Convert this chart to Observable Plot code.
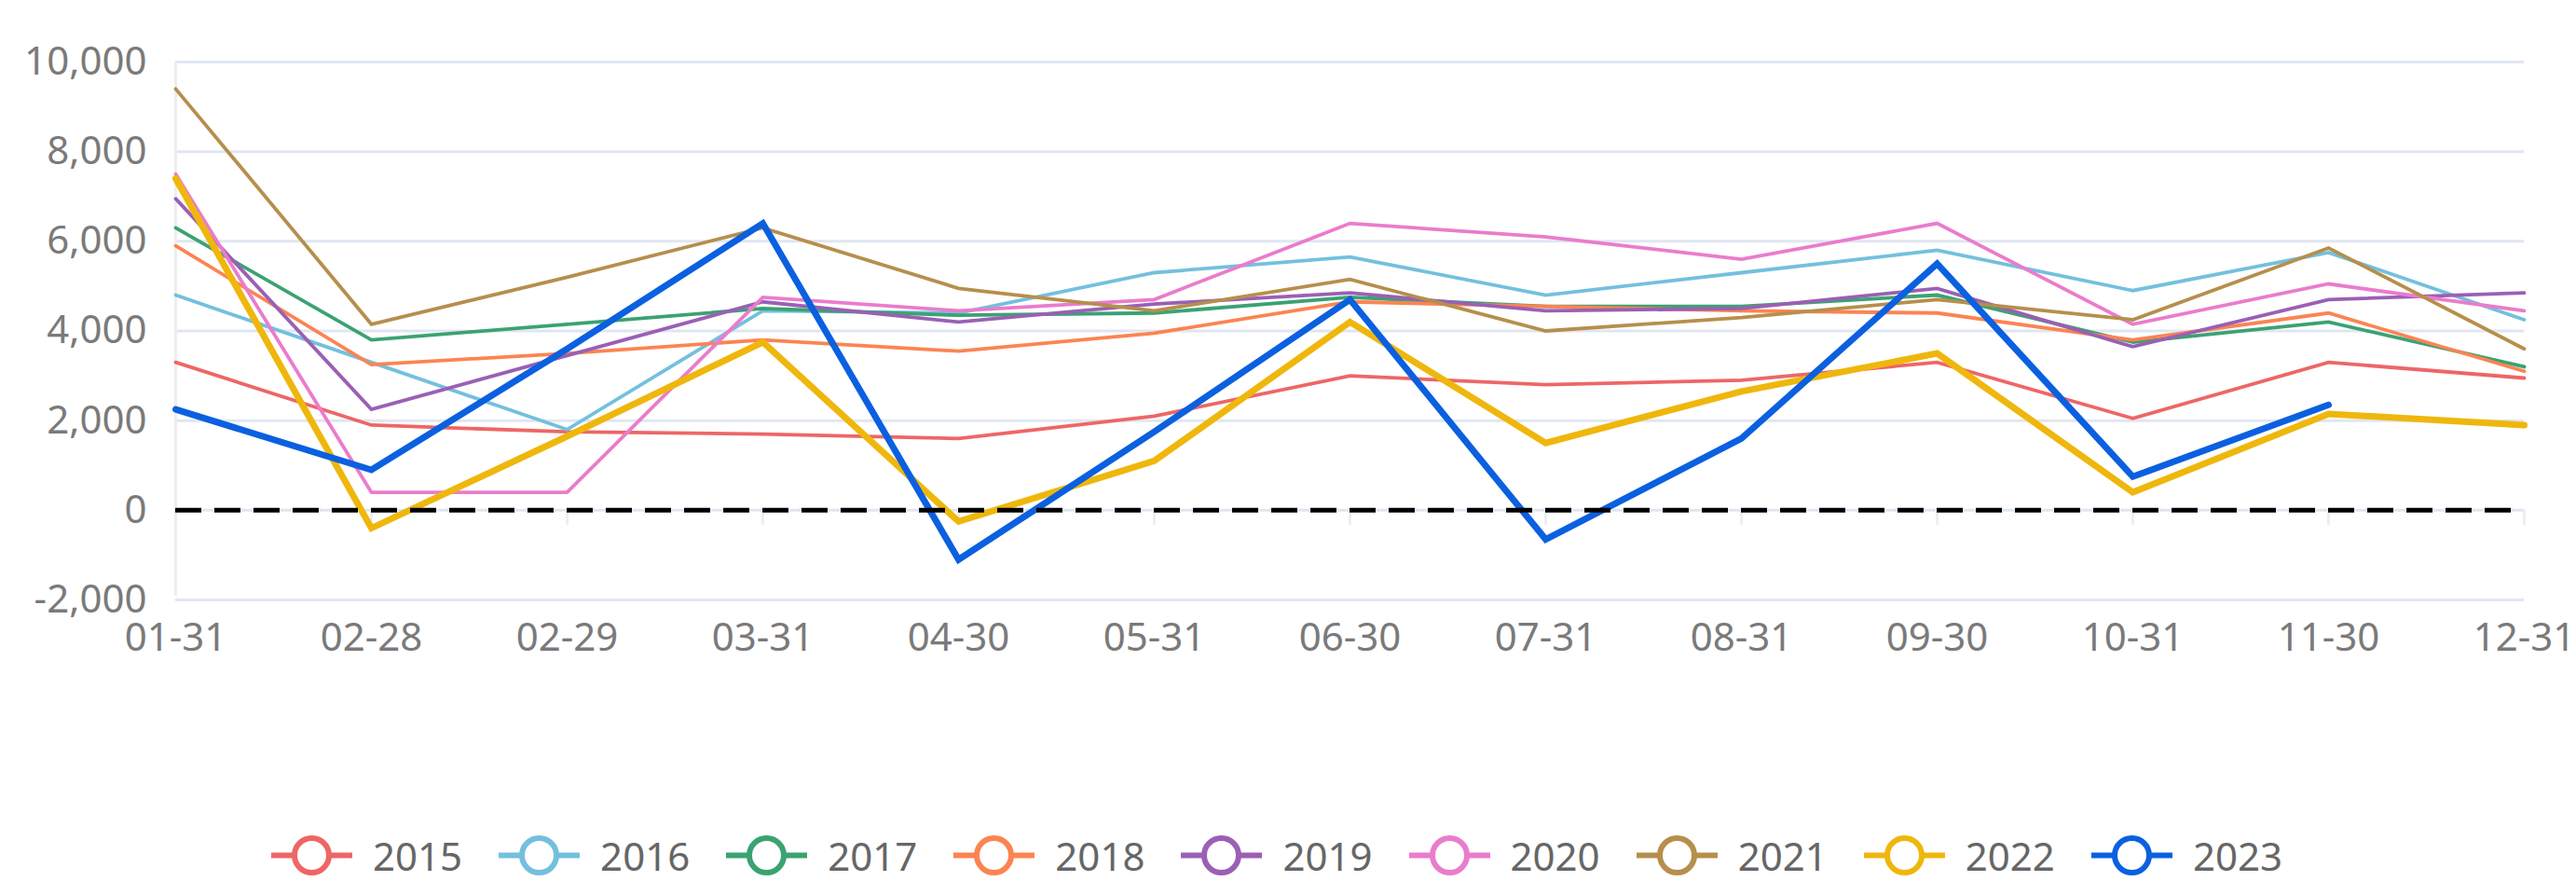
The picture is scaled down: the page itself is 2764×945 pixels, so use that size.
<!DOCTYPE html>
<html>
<head>
<meta charset="utf-8">
<script src="https://cdn.jsdelivr.net/npm/d3@7"></script>
<script src="https://cdn.jsdelivr.net/npm/@observablehq/plot@0.6"></script>
<style>
  html, body { margin: 0; padding: 0; background: #fff; overflow: hidden; }
  #chart svg { display: block; }
  #legend {
    display: flex; justify-content: center; align-items: center;
    height: 55px; padding-top: 30px; padding-right: 24px; gap: 39px;
    font-family: 'Noto Sans', sans-serif; font-size: 42px; color: #666;
  }
  .item { display: flex; align-items: center; gap: 22px; }
  .item svg { display: block; }
</style>
</head>
<body>
<div id="chart"></div>
<div id="legend"></div>
<script>
const dates = ["01-31","02-28","02-29","03-31","04-30","05-31","06-30","07-31","08-31","09-30","10-31","11-30","12-31"];
const years = ["2015","2016","2017","2018","2019","2020","2021","2022","2023"];
const colors = ["#ee6666","#73c0de","#3ba272","#fc8452","#9a60b4","#ea7ccc","#b68f4c","#efb70c","#0b60e0"];
const thickYears = ["2022","2023"];
const yTicks = [-2000, 0, 2000, 4000, 6000, 8000, 10000];

const v2015 = [3300, 1900, 1750, 1700, 1600, 2100, 3000, 2800, 2900, 3300, 2050, 3300, 2950];
const v2016 = [4800, 3300, 1800, 4450, 4400, 5300, 5650, 4800, 5300, 5800, 4900, 5750, 4250];
const v2017 = [6300, 3800, 4150, 4500, 4350, 4400, 4750, 4550, 4550, 4800, 3750, 4200, 3200];
const v2018 = [5900, 3250, 3500, 3800, 3550, 3950, 4650, 4550, 4450, 4400, 3800, 4400, 3100];
const v2019 = [6950, 2250, 3450, 4650, 4200, 4600, 4850, 4450, 4500, 4950, 3650, 4700, 4850];
const v2020 = [7500, 400, 400, 4750, 4450, 4700, 6400, 6100, 5600, 6400, 4150, 5050, 4450];
const v2021 = [9400, 4150, 5200, 6300, 4950, 4450, 5150, 4000, 4300, 4700, 4250, 5850, 3600];
const v2022 = [7400, -400, 1650, 3750, -250, 1100, 4200, 1500, 2650, 3500, 400, 2150, 1900];
const v2023 = [2250, 900, 3600, 6400, -1100, 1750, 4700, -650, 1600, 5500, 750, 2350, null];

const series = [v2015, v2016, v2017, v2018, v2019, v2020, v2021, v2022, v2023];
const rows = [];
years.forEach((yr, i) => {
  dates.forEach((d, j) => {
    const v = series[i][j];
    rows.push({year: yr, date: d, value: v == null ? NaN : v});
  });
});

const font = "'Noto Sans', sans-serif";
const thin = rows.filter(r => !thickYears.includes(r.year));
const thick = rows.filter(r => thickYears.includes(r.year));

const chart = Plot.plot({
  width: 2764,
  height: 860,
  marginTop: 66,
  marginBottom: 217,
  marginLeft: 188,
  marginRight: 56,
  style: {fontFamily: font, fontSize: "42px", background: "#fff", color: "#7a7a7a"},
  x: {type: "point", domain: dates, padding: 0, label: null},
  y: {domain: [-2000, 10000], label: null},
  color: {domain: years, range: colors},
  marks: [
    Plot.gridY(yTicks, {stroke: "#e0e6f1", strokeOpacity: 1, strokeWidth: 3}),
    Plot.ruleX([dates[0]], {y1: -2000, y2: 10000, stroke: "#eeeeee", strokeWidth: 3, insetTop: -4}),
    Plot.ruleX(dates, {x: d => d, y1: 0, y2: 0, insetBottom: -16, stroke: "#eeeeee", strokeWidth: 3}),
    Plot.axisY(yTicks, {label: null, tickSize: 0, tickPadding: 31, tickFormat: d => d.toLocaleString("en-US"), fill: "#7a7a7a", fontSize: 42}),
    Plot.axisX({label: null, tickSize: 0, tickPadding: 25, fill: "#7a7a7a", fontSize: 42}),
    Plot.line(thin, {x: "date", y: "value", z: "year", stroke: "year", strokeWidth: 3.8, strokeLinejoin: "miter", strokeMiterlimit: 4}),
    Plot.line(thick, {x: "date", y: "value", z: "year", stroke: "year", strokeWidth: 7, strokeLinejoin: "miter", strokeMiterlimit: 4}),
    Plot.ruleY([0], {stroke: "#000", strokeWidth: 5, strokeDasharray: "28,14"})
  ]
});
document.getElementById("chart").appendChild(chart);

const legend = document.getElementById("legend");
years.forEach((yr, i) => {
  const item = document.createElement("div");
  item.className = "item";
  const ns = "http://www.w3.org/2000/svg";
  const s = document.createElementNS(ns, "svg");
  s.setAttribute("width", 87); s.setAttribute("height", 49);
  const ln = document.createElementNS(ns, "line");
  ln.setAttribute("x1", 0); ln.setAttribute("x2", 87);
  ln.setAttribute("y1", 24.5); ln.setAttribute("y2", 24.5);
  ln.setAttribute("stroke", colors[i]); ln.setAttribute("stroke-width", 6);
  const c = document.createElementNS(ns, "circle");
  c.setAttribute("cx", 43.5); c.setAttribute("cy", 24.5); c.setAttribute("r", 18.5);
  c.setAttribute("fill", "#fff"); c.setAttribute("stroke", colors[i]); c.setAttribute("stroke-width", 6);
  s.appendChild(ln); s.appendChild(c);
  const t = document.createElement("span");
  t.textContent = yr;
  item.appendChild(s); item.appendChild(t);
  legend.appendChild(item);
});
</script>
</body>
</html>
